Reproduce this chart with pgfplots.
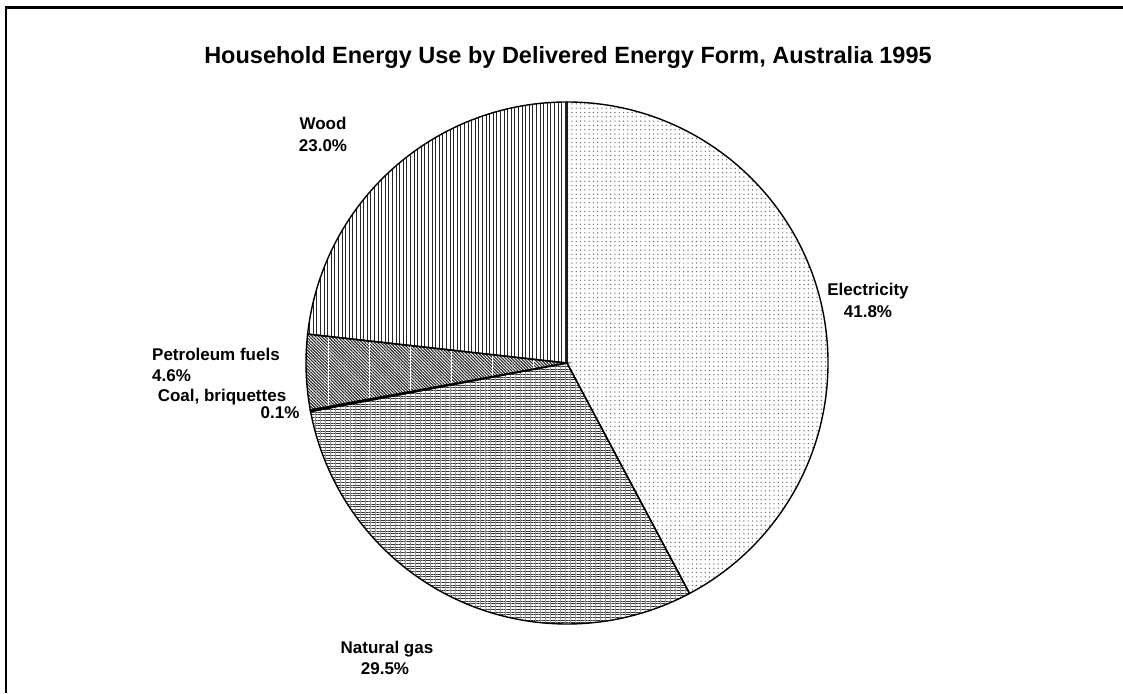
\documentclass[border=0pt]{standalone}
\usepackage{pgfplots}
\pgfplotsset{compat=1.18}
\usepackage{pgfplotstable}
\usetikzlibrary{patterns.meta}
\usepackage{fontspec}
\setmainfont{Liberation Sans}

\pgfplotstableread{
name value
Electricity 41.8
Gas 29.5
Coal 0.1
Petroleum 4.6
Wood 23.0
}\piedata

\pgfplotstablegetelem{0}{value}\of\piedata \edef\vA{\pgfplotsretval}
\pgfplotstablegetelem{1}{value}\of\piedata \edef\vB{\pgfplotsretval}
\pgfplotstablegetelem{2}{value}\of\piedata \edef\vC{\pgfplotsretval}
\pgfplotstablegetelem{3}{value}\of\piedata \edef\vD{\pgfplotsretval}
\pgfplotstablegetelem{4}{value}\of\piedata \edef\vE{\pgfplotsretval}
\pgfmathsetmacro\total{\vA+\vB+\vC+\vD+\vE}
\pgfmathsetmacro\aA{90}
\pgfmathsetmacro\aB{90-360*\vA/\total}
\pgfmathsetmacro\aC{\aB-360*\vB/\total}
\pgfmathsetmacro\aD{\aC-360*\vC/\total}
\pgfmathsetmacro\aE{\aD-360*\vD/\total}
\pgfmathsetmacro\aF{-270}

\newcommand\slicepath[2]{(axis cs:0,0) -- ++(#1:261pt) arc[start angle=#1, end angle=#2, radius=261pt] -- cycle}

\begin{document}
\begin{tikzpicture}
\useasboundingbox (0,0) rectangle (1123pt,693pt);
\draw[line width=2.5pt] (6pt,0pt) -- (6pt,685.5pt) -- (1123pt,685.5pt);
\begin{axis}[at={(567pt,330pt)}, anchor=origin, scale only axis,
  width=522pt, height=522pt, xmin=-1, xmax=1, ymin=-1, ymax=1,
  hide axis, clip=false]
  % Electricity
  \fill[pattern={Dots[distance=4.3pt,radius=0.7pt]}, pattern color=black!60] \slicepath{\aA}{\aB};
  % Natural gas
  \fill[pattern={Lines[angle=0,distance=2.7pt,line width=0.9pt]}, pattern color=black!80] \slicepath{\aB}{\aC};
  \fill[pattern={Lines[angle=90,distance=5pt,line width=0.6pt]}, pattern color=black!40] \slicepath{\aB}{\aC};
  % Coal
  \fill[black] \slicepath{\aC}{\aD};
  % Petroleum
  \fill[pattern={Lines[angle=-45,distance=2.2pt,line width=1.1pt]}, pattern color=black!85] \slicepath{\aD}{\aE};
  \fill[pattern={Lines[angle=90,distance=41pt,line width=1pt]}, pattern color=white] \slicepath{\aD}{\aE};
  % Wood
  \fill[pattern={Lines[angle=90,distance=3.6pt,line width=0.8pt]}, pattern color=black!85] \slicepath{\aE}{\aF};
  % outlines
  \draw[line width=1.4pt] \slicepath{\aA}{\aB};
  \draw[line width=1.4pt] \slicepath{\aB}{\aC};
  \draw[line width=1.4pt] \slicepath{\aC}{\aD};
  \draw[line width=1.4pt] \slicepath{\aD}{\aE};
  \draw[line width=1.4pt] \slicepath{\aE}{\aF};
\end{axis}
\node[anchor=base, font=\bfseries\fontsize{23.5}{27}\selectfont] at (568pt,629pt) {Household Energy Use by Delivered Energy Form, Australia 1995};
\begin{scope}[every node/.style={font=\bfseries\fontsize{17}{20}\selectfont, inner sep=0pt}]
\node[anchor=base] at (868pt,397pt) {Electricity};
\node[anchor=base] at (868pt,375pt) {41.8\%};
\node[anchor=base] at (323pt,563pt) {Wood};
\node[anchor=base] at (323pt,541pt) {23.0\%};
\node[anchor=base west] at (152pt,332pt) {Petroleum fuels};
\node[anchor=base west] at (152pt,311pt) {4.6\%};
\node[anchor=base] at (222pt,291pt) {Coal, briquettes};
\node[anchor=base] at (280pt,274pt) {0.1\%};
\node[anchor=base] at (387pt,40pt) {Natural gas};
\node[anchor=base] at (385pt,19pt) {29.5\%};
\end{scope}
\end{tikzpicture}
\end{document}
